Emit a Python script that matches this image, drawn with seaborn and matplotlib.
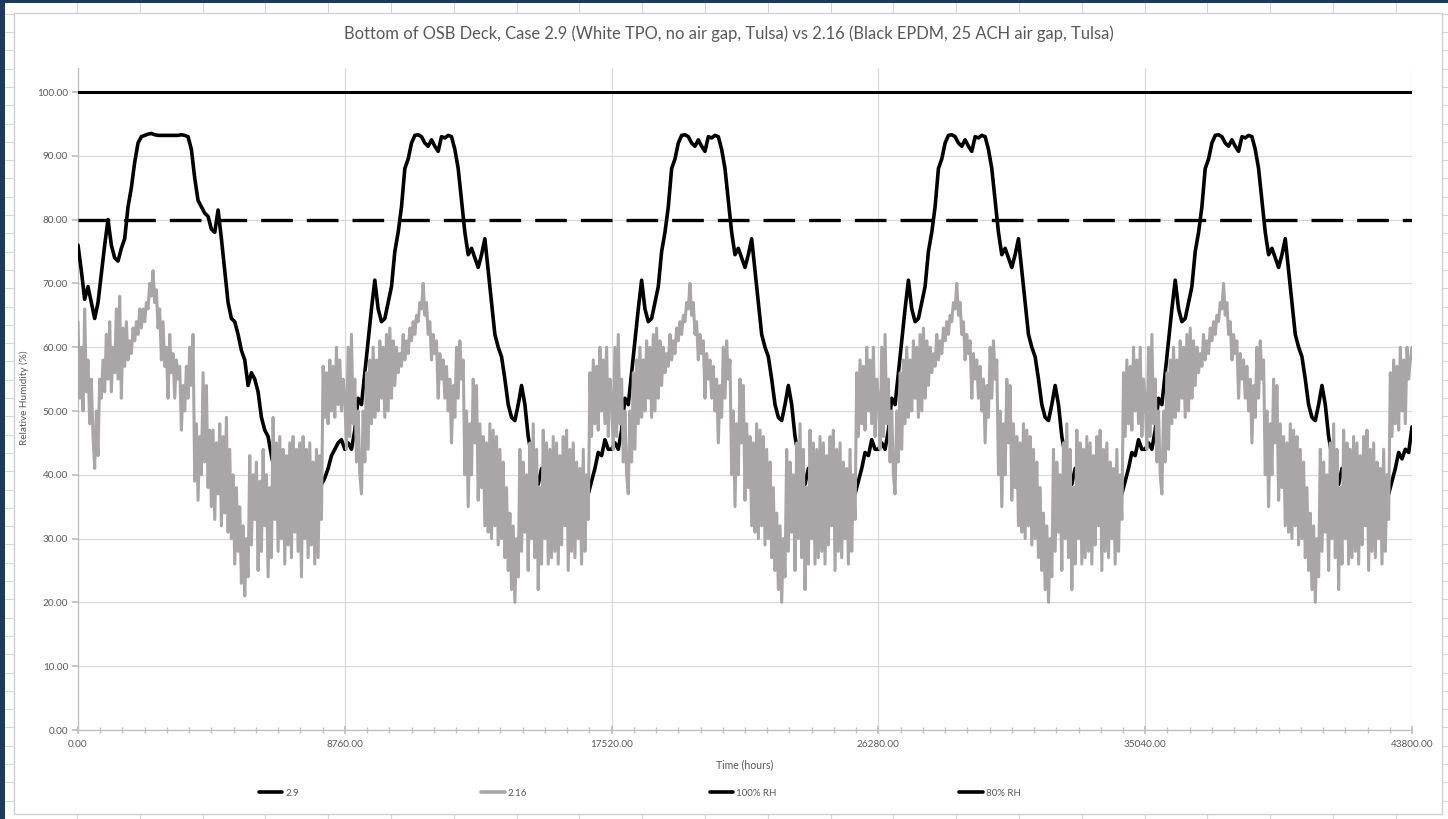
import numpy as np
import pandas as pd
import matplotlib
matplotlib.use("Agg")
import matplotlib.pyplot as plt
import seaborn as sns
from matplotlib.patches import Rectangle
from matplotlib.lines import Line2D
from matplotlib.ticker import FixedLocator, MultipleLocator

# ---------------- text ----------------
title = "Bottom of OSB Deck, Case 2.9 (White TPO, no air gap, Tulsa) vs 2.16 (Black EPDM, 25 ACH air gap, Tulsa)"
x_label = "Time (hours)"
y_label = "Relative Humidity (%)"
series_names = ["2.9", "2.16", "100% RH", "80% RH"]

# ---------------- axes ----------------
x_ticks = [0, 8760, 17520, 26280, 35040, 43800]
y_ticks = [0, 10, 20, 30, 40, 50, 60, 70, 80, 90, 100]
month_hours = 730
x_max = 43800
ref_100 = [100, 100]
ref_80 = [80, 80]
ref_hours = [0, 43800]

# ---------------- case 2.9, 80 samples per simulated year ----------------
rh_29_year1 = [76, 72, 67.5, 69.5, 67, 64.5, 67, 71.5, 76, 80,
               76, 74, 73.5, 75.5, 77, 82, 85, 89, 92, 93,
               93.2, 93.4, 93.5, 93.3, 93.2, 93.2, 93.2, 93.2, 93.2, 93.2,
               93.2, 93.3, 93.2, 93, 91, 86.5, 83, 82, 81, 80.5,
               78.5, 78, 81.5, 77, 72, 67, 64.5, 64, 62, 59.5,
               58, 54, 56, 55, 53, 49, 47, 46, 43, 40.5,
               42, 40, 41, 39, 40.5, 41, 39.5, 41.5, 40, 39,
               39, 38, 39, 38.5, 39.5, 41, 43, 44, 45, 45.5]
rh_29_year2 = [44, 45, 44, 47, 52, 51, 56, 61, 66, 70.5,
               66, 64, 64.5, 67, 69.5, 75, 78, 82, 88, 89.5,
               92, 93.2, 93.3, 93, 92, 91.5, 92.5, 91.5, 90.7, 93,
               92.8, 93.2, 93, 91, 88, 83, 78, 74.5, 75.5, 74,
               72.5, 74.5, 77, 72, 67, 62, 60, 58.5, 55, 51,
               49, 48.5, 51, 54, 51, 46, 43, 41, 38.5, 41,
               40, 39, 40, 38, 39, 40, 40.5, 41, 37.5, 39,
               38, 38.5, 37.5, 37, 39, 41, 43.5, 43, 45.5, 44]
rh_29_year3 = [44, 45, 44, 47, 52, 51, 56, 61, 66, 70.5,
               66, 64, 64.5, 67, 69.5, 75, 78, 82, 88, 89.5,
               92, 93.2, 93.3, 93, 92, 91.5, 92.5, 91.5, 90.7, 93,
               92.8, 93.2, 93, 91, 88, 83, 78, 74.5, 75.5, 74,
               72.5, 74.5, 77, 72, 67, 62, 60, 58.5, 55, 51,
               49, 48.5, 51, 54, 51, 46, 43, 41, 38.5, 41,
               40, 39, 40, 38, 39, 40, 40.5, 41, 37.5, 39,
               38, 38.5, 37.5, 37, 39, 41, 43.5, 43, 45.5, 44]
rh_29_year4 = [44, 45, 44, 47, 52, 51, 56, 61, 66, 70.5,
               66, 64, 64.5, 67, 69.5, 75, 78, 82, 88, 89.5,
               92, 93.2, 93.3, 93, 92, 91.5, 92.5, 91.5, 90.7, 93,
               92.8, 93.2, 93, 91, 88, 83, 78, 74.5, 75.5, 74,
               72.5, 74.5, 77, 72, 67, 62, 60, 58.5, 55, 51,
               49, 48.5, 51, 54, 51, 46, 43, 41, 38.5, 41,
               40, 39, 40, 38, 39, 40, 40.5, 41, 37.5, 39,
               38, 38.5, 37.5, 37, 39, 41, 43.5, 43, 45.5, 44]
rh_29_year5 = [44, 45, 44, 47, 52, 51, 56, 61, 66, 70.5,
               66, 64, 64.5, 67, 69.5, 75, 78, 82, 88, 89.5,
               92, 93.2, 93.3, 93, 92, 91.5, 92.5, 91.5, 90.7, 93,
               92.8, 93.2, 93, 91, 88, 83, 78, 74.5, 75.5, 74,
               72.5, 74.5, 77, 72, 67, 62, 60, 58.5, 55, 51,
               49, 48.5, 51, 54, 51, 46, 43, 41, 38.5, 41,
               40, 39, 40, 38, 39, 40, 40.5, 41, 37.5, 39,
               38, 38.5, 37.5, 37, 39, 41, 43.5, 42.5, 44, 43.5]
rh_29_end = [47.5]

# ---------------- case 2.16, 160 samples per simulated year ----------------
rh_216_year1 = [64, 52, 60, 50, 66, 53, 58, 48, 55, 46,
                41, 50, 43, 55, 52, 58, 53, 62, 55, 64,
                53, 60, 56, 66, 55, 68, 52, 63, 57, 64,
                58, 61, 59, 63, 61, 64, 62, 66, 63, 66,
                64, 67, 66, 70, 68, 72, 67, 69, 63, 66,
                58, 64, 57, 60, 52, 62, 56, 59, 52, 58,
                55, 57, 47, 54, 50, 57, 52, 60, 54, 62,
                39, 48, 36, 46, 40, 56, 42, 54, 38, 47,
                35, 47, 33, 45, 37, 48, 32, 46, 34, 49,
                31, 44, 30, 40, 26, 38, 28, 35, 23, 32,
                21, 30, 24, 43, 29, 40, 33, 42, 25, 39,
                28, 44, 32, 40, 24, 38, 27, 49, 33, 45,
                28, 46, 30, 44, 26, 43, 29, 45, 27, 46,
                31, 44, 28, 45, 24, 46, 30, 44, 27, 45,
                29, 42, 26, 44, 27, 43, 33, 57, 49, 56,
                48, 58, 50, 57, 49, 60, 51, 58, 50, 55]
rh_216_year2 = [52, 44, 60, 46, 62, 48, 55, 42, 50, 40,
                37, 50, 42, 56, 44, 58, 48, 60, 49, 58,
                50, 61, 52, 60, 49, 62, 50, 63, 52, 61,
                54, 60, 56, 59, 57, 62, 58, 61, 59, 63,
                61, 64, 62, 65, 64, 67, 66, 70, 65, 67,
                62, 64, 58, 62, 59, 61, 52, 59, 55, 58,
                52, 57, 50, 55, 45, 54, 49, 60, 52, 61,
                55, 58, 40, 50, 35, 48, 40, 55, 45, 54,
                36, 48, 38, 46, 32, 45, 31, 48, 30, 47,
                32, 46, 29, 44, 30, 42, 27, 38, 25, 34,
                22, 32, 20, 30, 24, 44, 28, 42, 31, 40,
                25, 45, 30, 48, 27, 44, 22, 38, 26, 47,
                30, 45, 26, 44, 27, 46, 28, 45, 26, 43,
                29, 46, 32, 47, 25, 44, 28, 45, 27, 42,
                30, 41, 26, 44, 28, 40, 33, 56, 46, 58,
                48, 57, 47, 60, 50, 58, 48, 60, 46, 55]
rh_216_year3 = [52, 44, 60, 46, 62, 48, 55, 42, 50, 40,
                37, 50, 42, 56, 44, 58, 48, 60, 49, 58,
                50, 61, 52, 60, 49, 62, 50, 63, 52, 61,
                54, 60, 56, 59, 57, 62, 58, 61, 59, 63,
                61, 64, 62, 65, 64, 67, 66, 70, 65, 67,
                62, 64, 58, 62, 59, 61, 52, 59, 55, 58,
                52, 57, 50, 55, 45, 54, 49, 60, 52, 61,
                55, 58, 40, 50, 35, 48, 40, 55, 45, 54,
                36, 48, 38, 46, 32, 45, 31, 48, 30, 47,
                32, 46, 29, 44, 30, 42, 27, 38, 25, 34,
                22, 32, 20, 30, 24, 44, 28, 42, 31, 40,
                25, 45, 30, 48, 27, 44, 22, 38, 26, 47,
                30, 45, 26, 44, 27, 46, 28, 45, 26, 43,
                29, 46, 32, 47, 25, 44, 28, 45, 27, 42,
                30, 41, 26, 44, 28, 40, 33, 56, 46, 58,
                48, 57, 47, 60, 50, 58, 48, 60, 46, 55]
rh_216_year4 = [52, 44, 60, 46, 62, 48, 55, 42, 50, 40,
                37, 50, 42, 56, 44, 58, 48, 60, 49, 58,
                50, 61, 52, 60, 49, 62, 50, 63, 52, 61,
                54, 60, 56, 59, 57, 62, 58, 61, 59, 63,
                61, 64, 62, 65, 64, 67, 66, 70, 65, 67,
                62, 64, 58, 62, 59, 61, 52, 59, 55, 58,
                52, 57, 50, 55, 45, 54, 49, 60, 52, 61,
                55, 58, 40, 50, 35, 48, 40, 55, 45, 54,
                36, 48, 38, 46, 32, 45, 31, 48, 30, 47,
                32, 46, 29, 44, 30, 42, 27, 38, 25, 34,
                22, 32, 20, 30, 24, 44, 28, 42, 31, 40,
                25, 45, 30, 48, 27, 44, 22, 38, 26, 47,
                30, 45, 26, 44, 27, 46, 28, 45, 26, 43,
                29, 46, 32, 47, 25, 44, 28, 45, 27, 42,
                30, 41, 26, 44, 28, 40, 33, 56, 46, 58,
                48, 57, 47, 60, 50, 58, 48, 60, 46, 55]
rh_216_year5 = [52, 44, 60, 46, 62, 48, 55, 42, 50, 40,
                37, 50, 42, 56, 44, 58, 48, 60, 49, 58,
                50, 61, 52, 60, 49, 62, 50, 63, 52, 61,
                54, 60, 56, 59, 57, 62, 58, 61, 59, 63,
                61, 64, 62, 65, 64, 67, 66, 70, 65, 67,
                62, 64, 58, 62, 59, 61, 52, 59, 55, 58,
                52, 57, 50, 55, 45, 54, 49, 60, 52, 61,
                55, 58, 40, 50, 35, 48, 40, 55, 45, 54,
                36, 48, 38, 46, 32, 45, 31, 48, 30, 47,
                32, 46, 29, 44, 30, 42, 27, 38, 25, 34,
                22, 32, 20, 30, 24, 44, 28, 42, 31, 40,
                25, 45, 30, 48, 27, 44, 22, 38, 26, 47,
                30, 45, 26, 44, 27, 46, 28, 45, 26, 43,
                29, 46, 32, 47, 25, 44, 28, 45, 27, 42,
                30, 41, 26, 44, 28, 40, 33, 56, 46, 58,
                48, 57, 47, 60, 50, 58, 48, 60, 55, 58]
rh_216_end = [60]

rh_29 = rh_29_year1 + rh_29_year2 + rh_29_year3 + rh_29_year4 + rh_29_year5 + rh_29_end
rh_216 = rh_216_year1 + rh_216_year2 + rh_216_year3 + rh_216_year4 + rh_216_year5 + rh_216_end
hours_29 = np.linspace(0, x_max, len(rh_29))
hours_216 = np.linspace(0, x_max, len(rh_216))

df_29 = pd.DataFrame({"hours": hours_29, "rh": rh_29})
df_216 = pd.DataFrame({"hours": hours_216, "rh": rh_216})
df_ref = pd.DataFrame({"hours": ref_hours, "r100": ref_100, "r80": ref_80})

# ---------------- figure ----------------
sns.set_theme(style="white")
plt.rcParams["font.family"] = ["Lato", "DejaVu Sans"]

W, H = 1448, 819
fig = plt.figure(figsize=(W / 100, H / 100), dpi=100, facecolor="white")

def fx(px):
    return px / W

def fy(py):
    return 1 - py / H

navy = "#1d3a5c"
cell = "#d6d6d6"
# spreadsheet cell lines around the chart
for k in range(25):
    xv = 77 + 62.8 * k
    fig.add_artist(Line2D([fx(xv), fx(xv)], [fy(3), fy(13)], color=cell, lw=0.8, zorder=-5))
    fig.add_artist(Line2D([fx(xv), fx(xv)], [fy(814), fy(819)], color=cell, lw=0.8, zorder=-5))
for k in range(46):
    yv = 13.7 + 18.3 * k
    fig.add_artist(Line2D([fx(5), fx(14)], [fy(yv), fy(yv)], color=cell, lw=0.8, zorder=-5))
    fig.add_artist(Line2D([fx(1442), fx(1448)], [fy(yv), fy(yv)], color=cell, lw=0.8, zorder=-5))
# chart area
fig.add_artist(Rectangle((fx(14), fy(814)), fx(1442 - 14), (814 - 13) / H,
                         facecolor="white", edgecolor="#d0d0d0", lw=1.0, zorder=-4))
# dark window border
fig.add_artist(Rectangle((0, 0), fx(5), 1, facecolor=navy, edgecolor="none", zorder=-3))
fig.add_artist(Rectangle((0, fy(3)), 1, 3 / H, facecolor=navy, edgecolor="none", zorder=-3))

ax_top_px = 68
ax = fig.add_axes([fx(78), fy(730), fx(1412 - 78), (730 - ax_top_px) / H])
ax.set_zorder(2)
ax.set_facecolor("none")

sns.lineplot(data=df_29, x="hours", y="rh", ax=ax, color="black", lw=2.6,
             estimator=None, sort=False, zorder=3)
sns.lineplot(data=df_216, x="hours", y="rh", ax=ax, color="#a8a6a6", lw=2.2,
             estimator=None, sort=False, zorder=4)
sns.lineplot(data=df_ref, x="hours", y="r100", ax=ax, color="black", lw=2.2,
             estimator=None, zorder=5)
sns.lineplot(data=df_ref, x="hours", y="r80", ax=ax, color="black", lw=2.4,
             estimator=None, zorder=5)
ax.lines[-1].set_dashes([9.5, 4.2])

ax.set_xlim(0, x_max)
ax.set_ylim(0, 100 * (730 - ax_top_px) / 638)

grid_c = "#d9d9d9"
ax.xaxis.set_major_locator(FixedLocator(x_ticks))
ax.xaxis.set_minor_locator(MultipleLocator(month_hours))
ax.yaxis.set_major_locator(FixedLocator(y_ticks))
ax.set_xticklabels([f"{v:.2f}" for v in x_ticks])
ax.set_yticklabels([f"{v:.2f}" for v in y_ticks])
ax.grid(True, which="major", color=grid_c, lw=0.9, zorder=0)
ax.set_axisbelow(True)
for s in ["top", "right"]:
    ax.spines[s].set_visible(False)
for s in ["left", "bottom"]:
    ax.spines[s].set_color("#bfbfbf")
    ax.spines[s].set_linewidth(0.9)
ax.tick_params(axis="x", which="major", direction="inout", length=6, color="#bfbfbf",
               labelsize=7.2, labelcolor="#595959", pad=4, bottom=True)
ax.tick_params(axis="x", which="minor", direction="inout", length=5, color="#bfbfbf", bottom=True)
ax.tick_params(axis="y", which="major", direction="out", length=4, color="#bfbfbf",
               labelsize=7.2, labelcolor="#595959", pad=3, left=True)

ax.set_xlabel("")
ax.set_ylabel("")
fig.text(fx(745), fy(765), x_label, ha="center", va="center", fontsize=7.6, color="#595959")
fig.text(fx(24), fy(398), y_label, ha="center", va="center", rotation=90,
         fontsize=7.2, color="#595959")
fig.text(fx(729), fy(34), title, ha="center", va="center", fontsize=11.9, color="#595959")

handles = [Line2D([], [], color="black", lw=2.6),
           Line2D([], [], color="#a8a6a6", lw=2.6),
           Line2D([], [], color="black", lw=2.6),
           Line2D([], [], color="black", lw=2.6)]
leg = fig.legend(handles, series_names, loc="center left",
                 bbox_to_anchor=(fx(252), fy(793)), ncol=4, frameon=False,
                 fontsize=7, handlelength=2.4, handletextpad=0.3, columnspacing=18.8,
                 borderpad=0.2)
for t in leg.get_texts():
    t.set_color("#595959")

fig.savefig("out.png", dpi=100, facecolor="white")
